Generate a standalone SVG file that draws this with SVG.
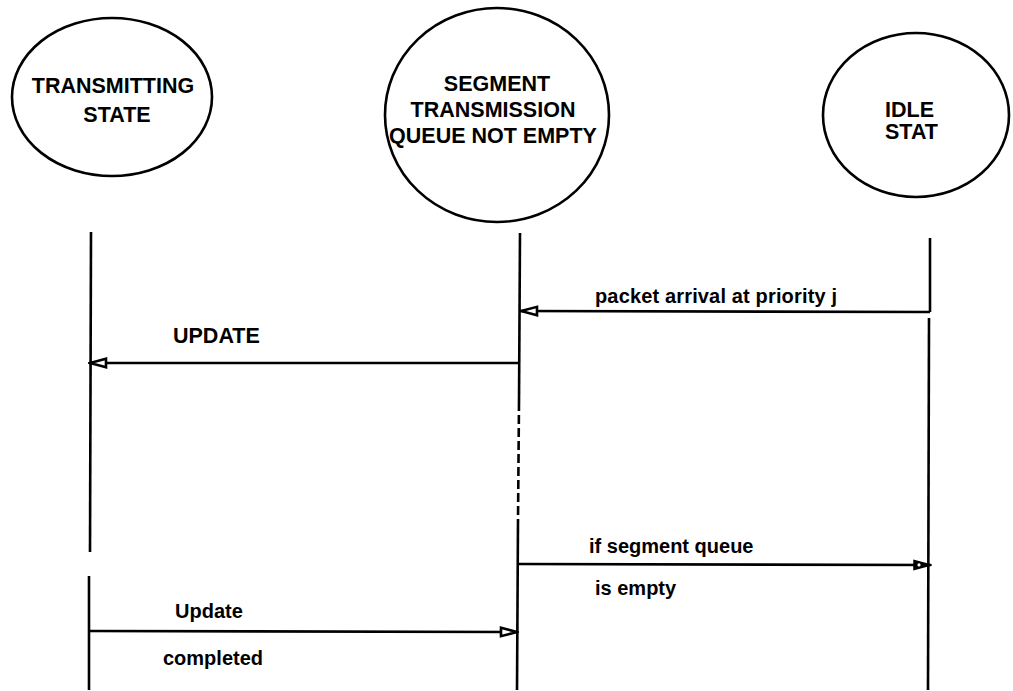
<svg xmlns="http://www.w3.org/2000/svg" width="1013" height="691" viewBox="0 0 1013 691">
<style>
.node{fill:#fff;stroke:#000;stroke-width:2.6}
.nt{font-family:"Liberation Sans",Arial,sans-serif;font-weight:bold;font-size:21.5px;fill:#000}
.lbl{font-family:"Liberation Sans",Arial,sans-serif;font-weight:bold;font-size:20px;fill:#000}
.life{stroke:#000;stroke-width:2.6;fill:none}
.msg{stroke:#000;stroke-width:2.6;fill:none}
</style>
<defs>
<marker id="open" viewBox="0 0 20 12" refX="19" refY="6" markerWidth="20" markerHeight="12" orient="auto" markerUnits="userSpaceOnUse">
<path d="M2,1.8 L18,6 L2,10.2 Z" fill="#fff" stroke="#000" stroke-width="2.6" stroke-linejoin="miter"/>
</marker>
<marker id="solid" viewBox="0 0 20 12" refX="19" refY="6" markerWidth="20" markerHeight="12" orient="auto" markerUnits="userSpaceOnUse">
<path d="M2,1.5 L19,6 L2,10.5 Z" fill="#000" stroke="#000" stroke-width="1.5"/>
<circle cx="7" cy="6" r="1.6" fill="#fff"/>
</marker>
</defs>
<rect width="1013" height="691" fill="#fff"/>
<g id="transmitting-state">
<ellipse class="node" cx="112" cy="97" rx="100" ry="79"/>
<text class="nt" x="113" y="93" text-anchor="middle">TRANSMITTING</text>
<text class="nt" x="117" y="122" text-anchor="middle">STATE</text>
</g>
<g id="segment-queue">
<ellipse class="node" cx="497" cy="115" rx="112" ry="107"/>
<text class="nt" x="497" y="91" text-anchor="middle">SEGMENT</text>
<text class="nt" x="493" y="117" text-anchor="middle">TRANSMISSION</text>
<text class="nt" x="493" y="143" text-anchor="middle">QUEUE NOT EMPTY</text>
</g>
<g id="idle-state">
<ellipse class="node" cx="916" cy="115" rx="93" ry="82"/>
<text class="nt" x="885" y="117">IDLE</text>
<text class="nt" x="885" y="139">STAT</text>
</g>
<g id="lifelines">
<line class="life" x1="91" y1="232" x2="90" y2="552"/>
<line class="life" x1="89" y1="576" x2="89" y2="690"/>
<line class="life" x1="520" y1="233" x2="519" y2="402"/>
<line class="life" x1="519" y1="402" x2="518" y2="520" stroke-dasharray="9 4"/>
<line class="life" x1="518" y1="520" x2="517" y2="690"/>
<line class="life" x1="930" y1="238" x2="930" y2="312"/>
<line class="life" x1="929" y1="318" x2="928" y2="690"/>
</g>
<g id="connectors">
<line class="msg" x1="930" y1="312" x2="520" y2="311" marker-end="url(#open)"/>
<line class="msg" x1="519" y1="363" x2="89" y2="363" marker-end="url(#open)"/>
<line class="msg" x1="517" y1="564" x2="931" y2="565" marker-end="url(#solid)"/>
<line class="msg" x1="88" y1="631" x2="518" y2="632" marker-end="url(#open)"/>
</g>
<g id="labels">
<text class="lbl" x="595" y="303" textLength="242" lengthAdjust="spacing">packet arrival  at priority j</text>
<text class="lbl" x="173" y="343" style="font-size:21.5px">UPDATE</text>
<text class="lbl" x="589" y="553">if segment queue</text>
<text class="lbl" x="595" y="595">is empty</text>
<text class="lbl" x="175" y="618">Update</text>
<text class="lbl" x="163" y="665">completed</text>
</g>
</svg>
